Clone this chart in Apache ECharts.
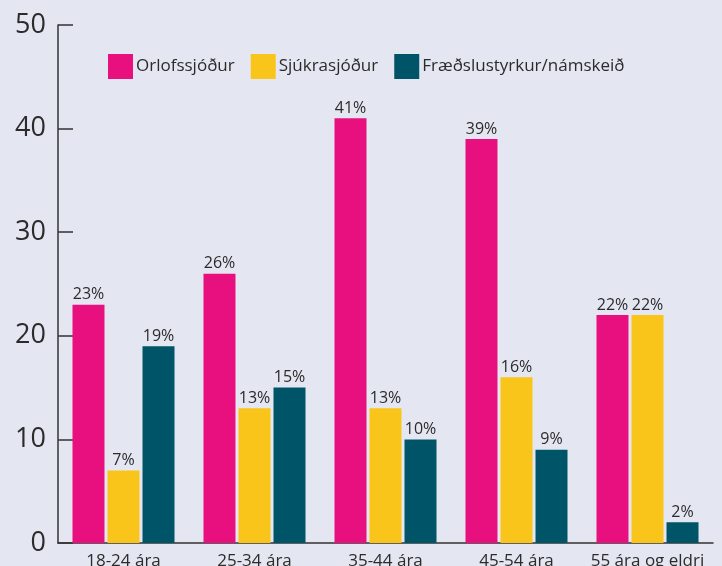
<!DOCTYPE html>
<html><head><meta charset="utf-8">
<script src="https://cdn.jsdelivr.net/npm/echarts@6/dist/echarts.min.js"></script>
<style>html,body{margin:0;padding:0;background:#e4e7f2;}#c{width:722px;height:566px;}</style>
</head><body><div id="c"></div>
<script>
const categories = ['18-24 ára','25-34 ára','35-44 ára','45-54 ára','55 ára og eldri'];
const seriesNames = ['Orlofssjóður','Sjúkrasjóður','Fræðslustyrkur/námskeið'];
const orlof = [23, 26, 41, 39, 22];
const sjukra = [7, 13, 13, 16, 22];
const fraedsla = [19, 15, 10, 9, 2];
const yTicks = [0, 10, 20, 30, 40, 50];
const colors = ['#e8107e', '#f9c51a', '#005468'];
const FONT = 'Open Sans';
const chart = echarts.init(document.getElementById('c'));
const mk = (name, data, color) => ({
  name, type: 'bar', data, barWidth: 32, barGap: '9.4%',
  itemStyle: { color },
  label: { show: true, position: 'top', distance: 2, formatter: '{c}%', color: '#2b2b2b', fontSize: 16, fontFamily: FONT }
});
chart.setOption({
  backgroundColor: '#e4e7f2',
  animation: false,
  textStyle: { fontFamily: FONT },
  legend: {
    left: 108, top: 54, padding: 0, itemWidth: 25, itemHeight: 25, itemGap: 16,
    icon: 'rect',
    textStyle: { fontSize: 17, color: '#2b2b2b', fontFamily: FONT, padding: [0, 0, 6, -2] },
    data: seriesNames
  },
  grid: { left: 58, right: 9, top: 25, bottom: 23, containLabel: false, outerBoundsMode: 'none' },
  xAxis: {
    type: 'category', data: categories,
    axisLine: { lineStyle: { color: '#333', width: 1.5 } },
    axisTick: { inside: true, length: 13, lineStyle: { color: '#333', width: 1.5 } },
    axisLabel: { interval: 0, margin: 10, fontSize: 17, color: '#2b2b2b', fontFamily: FONT }
  },
  yAxis: {
    type: 'value', min: yTicks[0], max: yTicks[yTicks.length - 1], interval: 10,
    splitLine: { show: false },
    axisLine: { show: true, lineStyle: { color: '#333', width: 1.5 } },
    axisTick: { show: true, inside: true, length: 15, lineStyle: { color: '#333', width: 1.5 } },
    axisLabel: { margin: 12, fontSize: 27, color: '#2b2b2b', fontFamily: FONT }
  },
  series: [mk(seriesNames[0], orlof, colors[0]), mk(seriesNames[1], sjukra, colors[1]), mk(seriesNames[2], fraedsla, colors[2])]
});
</script></body></html>
